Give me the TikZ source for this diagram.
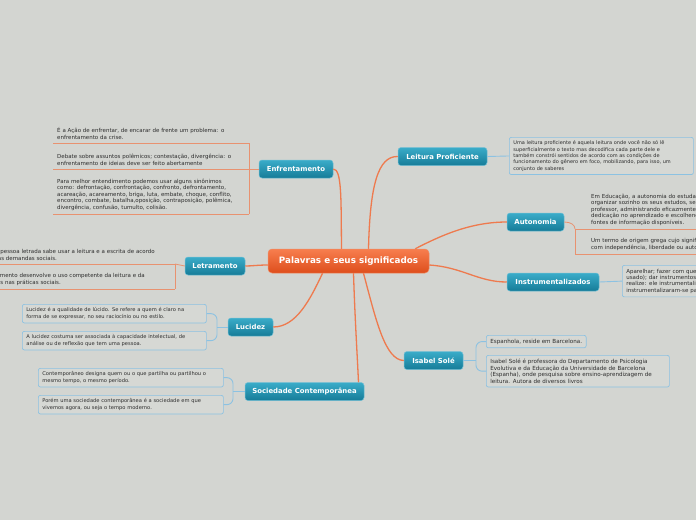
\documentclass[tikz,border=0pt]{standalone}
\usepackage{fontspec}
\setmainfont{DejaVu Sans}
\definecolor{bgc}{RGB}{211,213,209}
\definecolor{cenT}{RGB}{247,126,78}
\definecolor{cenB}{RGB}{222,78,28}
\definecolor{cenD}{RGB}{240,140,100}
\definecolor{topT}{RGB}{58,172,201}
\definecolor{topB}{RGB}{22,124,152}
\definecolor{topD}{RGB}{110,190,212}
\definecolor{noteD}{RGB}{140,194,226}
\definecolor{noteF}{RGB}{214,216,212}
\definecolor{conO}{RGB}{238,122,78}
\definecolor{linO}{RGB}{232,146,112}
\definecolor{txt}{RGB}{45,45,45}
\tikzset{
  central/.style={rounded corners=4pt, top color=cenT, bottom color=cenB, draw=cenD, line width=0.5pt,
    text=white, font=\fontsize{8.8}{10}\selectfont\bfseries, minimum width=161pt, minimum height=24pt, inner sep=0pt},
  topic/.style={rounded corners=3pt, top color=topT, bottom color=topB, draw=topD, line width=0.5pt,
    text=white, font=\fontsize{6.9}{8}\selectfont\bfseries, minimum height=18pt, inner xsep=4pt, inner ysep=0pt},
  note/.style={draw=noteD, fill=noteF, rounded corners=2pt, line width=0.7pt,
    font=\fontsize{5.15}{6.4}\selectfont, text=txt, align=left, inner xsep=4pt, inner ysep=3.5pt, anchor=north west},
  bignote/.style={font=\fontsize{5.6}{6.7}\selectfont},
  uline/.style={font=\fontsize{5.5}{6.5}\selectfont, text=txt, align=left, inner xsep=4pt, inner ysep=3.5pt},
  oc/.style={draw=conO, line width=1.3pt},
  ol/.style={draw=linO, line width=0.8pt},
  bc/.style={draw=noteD, line width=0.9pt},
}
\begin{document}
\begin{tikzpicture}[x=1pt,y=-1pt]
\useasboundingbox (0,0) rectangle (696,520);
\clip (0,0) rectangle (696,520);
\fill[bgc] (0,0) rectangle (696,520);

% central and topics
\node[central] (c) at (348.5,261) {Palavras e seus significados};
\node[topic, minimum width=89pt] (lp) at (442.5,156.5) {Leitura Proficiente};
\node[topic, minimum width=74pt] (enf) at (296,169) {Enfrentamento};
\node[topic, minimum width=57pt] (aut) at (535.5,222) {Autonomia};
\node[topic, minimum width=92pt] (ins) at (553,282) {Instrumentalizados};
\node[topic, minimum width=60pt] (let) at (215,266) {Letramento};
\node[topic, minimum width=45pt] (luc) at (250.5,327) {Lucidez};
\node[topic, minimum width=59pt] (isa) at (433.5,360.5) {Isabel Solé};
\node[topic, minimum width=119pt] (soc) at (304.5,391.5) {Sociedade Contemporânea};

% main connectors
\draw[oc] ([xshift=20pt]c.north) .. controls (370,185) and (378,156) .. (lp.west);
\draw[oc] ([xshift=-7pt]c.north) .. controls (341,200) and (342,169) .. (enf.east);
\draw[oc] ([xshift=-14pt]c.north east) .. controls (440,236) and (470,222) .. (aut.west);
\draw[oc] ([yshift=-4pt]c.east) .. controls (462,267) and (478,282) .. (ins.west);
\draw[oc] ([yshift=-4pt]c.west) .. controls (258,265) and (252,266) .. (let.east);
\draw[oc] ([xshift=-26pt]c.south) .. controls (310,300) and (296,327) .. (luc.east);
\draw[oc] ([xshift=5pt]c.south) .. controls (355,320) and (357,350) .. ([xshift=54pt]soc.north);
\draw[oc] ([xshift=15pt]c.south) .. controls (376,320) and (385,360) .. (isa.west);

% Leitura Proficiente
\node[note, font=\fontsize{5}{6.3}\selectfont, text width=176pt] (lpn) at (509,137) {Uma leitura proficiente é aquela leitura onde você não só lê\\superficialmente o texto mas decodifica cada parte dele e\\também constrói sentidos de acordo com as condições de\\funcionamento do gênero em foco, mobilizando, para isso, um\\conjunto de saberes};
\draw[bc] (lp.east) -- (lpn.west);

% Instrumentalizados
\node[note, font=\fontsize{5.5}{6.4}\selectfont, text width=120pt] (insn) at (622,265) {Aparelhar; fazer com que (algo seja\\usado); dar instrumentos para que se\\realize: ele instrumentalizou os alunos;\\instrumentalizaram-se para o trabalho.};
\draw[bc] (ins.east) -- (insn.west);

% Isabel Solé
\node[note, bignote] (isan1) at (486,335) {Espanhola, reside em Barcelona.};
\node[note, bignote, text width=175pt] (isan2) at (486,355) {Isabel Solé é professora do Departamento de Psicologia\\Evolutiva e da Educação da Universidade de Barcelona\\(Espanha), onde pesquisa sobre ensino-aprendizagem de\\leitura. Autora de diversos livros};
\coordinate (isaj) at (476,360.5);
\draw[bc] (isa.east) -- (isaj);
\draw[bc, rounded corners=6pt] (isan1.west) -| (isaj) |- (isan2.west);

% Lucidez
\node[note, text width=176pt] (lucn1) at (22,304) {Lucidez é a qualidade de lúcido. Se refere a quem é claro na\\forma de se expressar, no seu raciocínio ou no estilo.};
\node[note, text width=176pt] (lucn2) at (22,331) {A lucidez costuma ser associada à capacidade intelectual, de\\análise ou de reflexão que tem uma pessoa.};
\coordinate (lucj) at (217,327);
\draw[bc] (luc.west) -- (lucj);
\draw[bc, rounded corners=6pt] (lucn1.east) -| (lucj) |- (lucn2.east);

% Sociedade Contemporânea
\node[note, text width=177pt] (socn1) at (38,368) {Contemporâneo designa quem ou o que partilha ou partilhou o\\mesmo tempo, o mesmo período.};
\node[note, text width=177pt] (socn2) at (38,395) {Porém uma sociedade contemporânea é a sociedade em que\\vivemos agora, ou seja o tempo moderno.};
\coordinate (socj) at (233,391.5);
\draw[bc] (soc.west) -- (socj);
\draw[bc, rounded corners=6pt] (socn1.east) -| (socj) |- (socn2.east);

% Enfrentamento
\node[uline, text width=188pt, anchor=south west] (enf1) at (53,143) {É a Ação de enfrentar, de encarar de frente um problema: o\\enfrentamento da crise.};
\node[uline, text width=188pt, anchor=south west] (enf2) at (53,169) {Debate sobre assuntos polêmicos; contestação, divergência: o\\enfrentamento de ideias deve ser feito abertamente};
\node[uline, text width=188pt, anchor=south west] (enf3) at (53,214) {Para melhor entendimento podemos usar alguns sinônimos\\como: defrontação, confrontação, confronto, defrontamento,\\acareação, acareamento, briga, luta, embate, choque, conflito,\\encontro, combate, batalha,oposição, contraposição, polêmica,\\divergência, confusão, tumulto, colisão.};
\draw[ol] (enf1.south west) -- (enf1.south east);
\draw[ol] (enf2.south west) -- (enf2.south east);
\draw[ol] (enf3.south west) -- (enf3.south east);
\draw[ol] (enf1.south east) -- (enf3.south east);
\draw[ol] (enf.west) -- (enf2.south east);

% Letramento
\node[uline, text width=185pt, anchor=south east] (let1) at (175,264) {Uma pessoa letrada sabe usar a leitura e a escrita de acordo\\\hspace*{-1.5pt}com as demandas sociais.};
\node[uline, text width=185pt, anchor=south east] (let2) at (175,289) {Letramento desenvolve o uso competente da leitura e da\\\hspace*{-4pt}escritas nas práticas sociais.};
\draw[ol] (let1.south west) -- (let1.south east);
\draw[ol] (let2.south west) -- (let2.south east);
\draw[ol] (let1.south east) -- (let2.south east);
\draw[ol] (let.west) -- (let1.south east);

% Autonomia
\node[uline, text width=180pt, inner xsep=16pt, anchor=south west] (aut1) at (575,229) {Em Educação, a autonomia do estudante consiste em saber\\organizar sozinho os seus estudos, sem depender do\\professor, administrando eficazmente o tempo de\\dedicação no aprendizado e escolhendo as melhores\\fontes de informação disponíveis.};
\node[uline, text width=180pt, inner xsep=16pt, anchor=south west] (aut2) at (575,254) {Um termo de origem grega cujo significado está relacionado\\com independência, liberdade ou autossuficiência.};
\draw[ol] (aut1.south west) -- (aut1.south east);
\draw[ol] (aut2.south west) -- (aut2.south east);
\draw[ol] (aut1.south west) -- (aut2.south west);
\draw[ol] (aut.east) .. controls (571,222) and (575,225) .. (aut1.south west);
\end{tikzpicture}
\end{document}
